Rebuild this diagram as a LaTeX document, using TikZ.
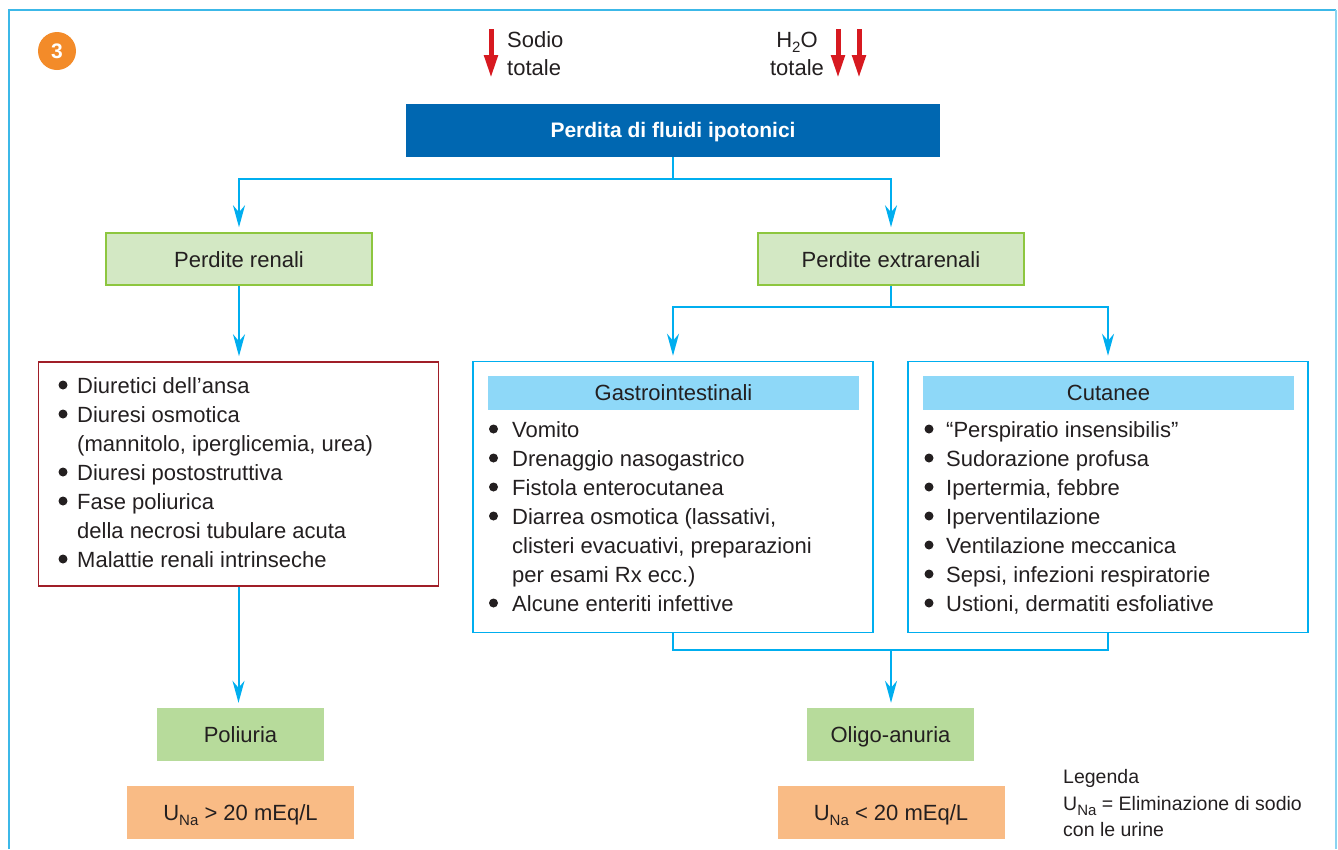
\documentclass[tikz,border=0pt]{standalone}
\usepackage{fontspec}
\setmainfont{Liberation Sans}
\usetikzlibrary{arrows.meta}
\definecolor{cyanL}{RGB}{0,174,239}
\definecolor{frameC}{RGB}{60,184,232}
\definecolor{titleB}{RGB}{0,103,177}
\definecolor{greenF}{RGB}{211,232,196}
\definecolor{greenD}{RGB}{141,198,63}
\definecolor{greenM}{RGB}{183,219,155}
\definecolor{orangeF}{RGB}{249,187,133}
\definecolor{redB}{RGB}{160,30,40}
\definecolor{headB}{RGB}{142,216,248}
\definecolor{redA}{RGB}{215,25,32}
\definecolor{circO}{RGB}{243,139,41}
\definecolor{txt}{RGB}{35,31,32}
\newcommand\subtx[1]{\raisebox{-5pt}{\fontsize{15}{15}\selectfont #1}}
\begin{document}
\begin{tikzpicture}[x=1pt,y=-1pt,
  every node/.style={text=txt, font=\fontsize{22}{29}\selectfont},
  conn/.style={draw=cyanL, line width=2pt},
  arr/.style={conn, -{Stealth[length=22pt,width=12pt,inset=7pt]}, shorten >=5pt},
  lab/.style={inner sep=0pt, text height=16pt, text depth=0pt, align=center},
  greenbox/.style={lab, draw=greenD, line width=1.5pt, fill=greenF, minimum width=266pt, minimum height=52pt},
  resbox/.style={lab, fill=greenM, minimum width=167pt, minimum height=53pt},
  unabox/.style={lab, fill=orangeF, minimum width=227pt, minimum height=53pt},
  listbox/.style={line width=1.5pt, minimum width=400pt, inner sep=0pt},
  headbox/.style={lab, fill=headB, minimum width=371pt, minimum height=34pt, text height=15pt},
  lst/.style={anchor=base west, inner sep=0pt},
  dot/.style={fill=txt},
  redarrow/.style={draw=redA, line width=5pt, -{Triangle[length=23pt,width=13pt]}},
  legend/.style={anchor=base west, inner sep=0pt, font=\fontsize{19.5}{26}\selectfont}
]
\useasboundingbox (0,0) rectangle (1338,849);
% outer frame
\draw[draw=frameC, line width=2pt] (9,849) -- (9,10) -- (1336,10);
\draw[draw=frameC!60, line width=1.5pt] (1336,10) -- (1336,849);

% number badge
\node[circle, fill=circO, minimum size=38pt, inner sep=0pt, text=white,
      font=\bfseries\fontsize{21}{21}\selectfont] (badge) at (57,51) {3};

% top indicators
\coordinate (sa) at (491,29); \coordinate (sb) at (491,78);
\draw[redarrow] (sa) -- (sb);
\node[anchor=base west, inner sep=0pt] (sodio) at (507,47) {Sodio};
\node[anchor=base west, inner sep=0pt] (sodiotot) at (507,75) {totale};
\node[anchor=base, inner sep=0pt] (acqua) at (797,47) {H\subtx{2}O};
\node[anchor=base, inner sep=0pt] (acquatot) at (797,75) {totale};
\coordinate (ha) at (838,29); \coordinate (hb) at (838,78);
\coordinate (hc) at (859,29); \coordinate (hd) at (859,78);
\draw[redarrow] (ha) -- (hb);
\draw[redarrow] (hc) -- (hd);

% title
\node[lab, fill=titleB, minimum width=534pt, minimum height=53pt, text=white,
      text height=13pt, font=\bfseries\fontsize{21}{26}\selectfont] (title) at (673,130.5) {Perdita di fluidi ipotonici};

% level 2
\node[greenbox] (renali) at (239,259) {Perdite renali};
\node[greenbox] (extra) at (891,259) {Perdite extrarenali};

\coordinate (j1) at (673,179);
\draw[conn] (title.south) -- (j1);
\draw[arr] (j1) -| (renali.north);
\draw[arr] (j1) -| (extra.north);

% renal list box
\node[listbox, draw=redB, minimum height=224pt] (redbox) at (238.5,474) {};
\node[lst] (r1) at (77,393) {Diuretici dell’ansa};
\node[lst] (r2) at (77,422) {Diuresi osmotica};
\node[lst] (r3) at (77,451) {(mannitolo, iperglicemia, urea)};
\node[lst] (r4) at (77,480) {Diuresi postostruttiva};
\node[lst] (r5) at (77,509) {Fase poliurica};
\node[lst] (r6) at (77,538) {della necrosi tubulare acuta};
\node[lst] (r7) at (77,567) {Malattie renali intrinseche};
\foreach \yy in {385,414,472,501,559} \fill[dot] (63,\yy) circle [radius=4.5pt];

\draw[arr] (renali.south) -- (renali.south |- redbox.north);

% extrarenal boxes
\node[listbox, draw=cyanL, minimum height=271pt] (gastro) at (673,497) {};
\node[listbox, draw=cyanL, minimum height=271pt] (cute) at (1108,497) {};
\node[headbox] (gastroh) at (673.5,393) {Gastrointestinali};
\node[headbox] (cuteh) at (1108.5,393) {Cutanee};

\node[lst] (g1) at (512,437) {Vomito};
\node[lst] (g2) at (512,466) {Drenaggio nasogastrico};
\node[lst] (g3) at (512,495) {Fistola enterocutanea};
\node[lst] (g4) at (512,524) {Diarrea osmotica (lassativi,};
\node[lst] (g5) at (512,553) {clisteri evacuativi, preparazioni};
\node[lst] (g6) at (512,582) {per esami Rx ecc.)};
\node[lst] (g7) at (512,611) {Alcune enteriti infettive};
\foreach \yy in {429,458,487,516,603} \fill[dot] (493.5,\yy) circle [radius=4.5pt];

\node[lst] (c1) at (946,437) {“Perspiratio insensibilis”};
\node[lst] (c2) at (946,466) {Sudorazione profusa};
\node[lst] (c3) at (946,495) {Ipertermia, febbre};
\node[lst] (c4) at (946,524) {Iperventilazione};
\node[lst] (c5) at (946,553) {Ventilazione meccanica};
\node[lst] (c6) at (946,582) {Sepsi, infezioni respiratorie};
\node[lst] (c7) at (946,611) {Ustioni, dermatiti esfoliative};
\foreach \yy in {429,458,487,516,545,574,603} \fill[dot] (929,\yy) circle [radius=4.5pt];

\coordinate (j2) at (891,307);
\draw[conn] (extra.south) -- (j2);
\draw[arr] (j2) -| (gastro.north);
\draw[arr] (j2) -| (cute.north);

% results
\node[resbox] (poli) at (240.5,734.5) {Poliuria};
\node[resbox] (oligo) at (890.5,734.5) {Oligo-anuria};
\node[unabox] (una1) at (240.5,812.5) {U\subtx{Na} > 20 mEq/L};
\node[unabox] (una2) at (891,812.5) {U\subtx{Na} < 20 mEq/L};

\draw[arr] (redbox.south) -- (redbox.south |- poli.north);
\coordinate (j3) at (891,650);
\draw[conn] (gastro.south) |- (j3) -| (cute.south);
\draw[arr] (j3) -- (j3 |- oligo.north);

% legend
\node[legend] (leg1) at (1063,783) {Legenda};
\node[legend] (leg2) at (1063,810) {U\subtx{Na} = Eliminazione di sodio};
\node[legend] (leg3) at (1063,836) {con le urine};
\end{tikzpicture}
\end{document}
